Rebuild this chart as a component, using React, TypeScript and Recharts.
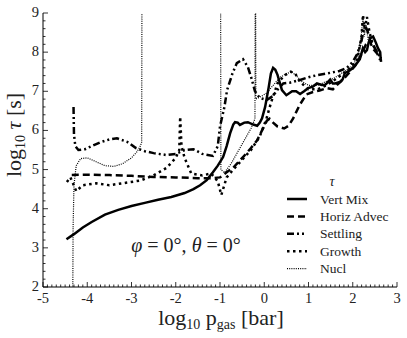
import { LineChart, Line, XAxis, YAxis } from 'recharts';

// timescales vs pressure
const vertMixX = [-4.47, -4.3, -4.1, -3.9, -3.6, -3.3, -3.0, -2.7, -2.4, -2.1, -1.8, -1.6, -1.45, -1.3, -1.16, -1.05, -0.93, -0.85, -0.77, -0.7, -0.66, -0.6, -0.55, -0.45, -0.37, -0.25, -0.16, -0.1, -0.05, 0.02, 0.1, 0.15, 0.2, 0.25, 0.3, 0.4, 0.5, 0.63, 0.72, 0.81, 0.9, 0.99, 1.1, 1.19, 1.3, 1.37, 1.43, 1.49, 1.55, 1.6, 1.71, 1.77, 1.82, 1.94, 2.05, 2.16, 2.23, 2.28, 2.32, 2.36, 2.4, 2.46, 2.52, 2.57, 2.62, 2.63, 2.64];
const vertMixY = [3.22, 3.35, 3.52, 3.66, 3.85, 3.97, 4.07, 4.15, 4.23, 4.3, 4.4, 4.5, 4.6, 4.73, 4.93, 5.1, 5.32, 5.6, 5.93, 6.15, 6.21, 6.2, 6.14, 6.2, 6.21, 6.15, 6.12, 6.2, 6.31, 6.6, 7.1, 7.45, 7.6, 7.55, 7.42, 7.03, 6.9, 7.0, 7.0, 6.93, 7.0, 7.08, 7.12, 7.2, 7.16, 7.16, 7.22, 7.3, 7.2, 7.2, 7.24, 7.3, 7.46, 7.54, 7.65, 7.82, 8.1, 8.0, 8.05, 8.25, 8.36, 8.4, 8.25, 8.1, 8.0, 7.85, 7.75];

const horizX = [-4.35, -4.0, -3.5, -3.0, -2.5, -2.0, -1.5, -1.2, -1.0, -0.85, -0.7, -0.48, -0.3, -0.16, -0.05, 0.06, 0.12, 0.2, 0.3, 0.45, 0.55, 0.65, 0.8, 0.95, 1.1, 1.25, 1.42, 1.55, 1.64, 1.78, 1.9, 2.05, 2.2, 2.3, 2.38, 2.45, 2.55, 2.62];
const horizY = [4.86, 4.87, 4.86, 4.84, 4.81, 4.8, 4.78, 4.78, 4.8, 4.93, 5.05, 5.32, 5.55, 5.75, 6.0, 6.25, 6.3, 6.2, 6.1, 6.05, 6.12, 6.3, 6.65, 6.92, 6.98, 7.02, 7.08, 7.05, 7.16, 7.3, 7.45, 7.65, 7.95, 8.2, 8.3, 8.1, 7.97, 7.8];

const settlingX = [-4.31, -4.3, -4.27, -4.2, -4.05, -3.9, -3.7, -3.5, -3.33, -3.1, -2.9, -2.7, -2.5, -2.2, -2.0, -1.8, -1.6, -1.4, -1.16, -1.05, -1.0, -0.9, -0.84, -0.72, -0.62, -0.48, -0.37, -0.28, -0.21, -0.1, 0.06, 0.2, 0.29, 0.43, 0.58, 0.81, 1.0, 1.19, 1.44, 1.7, 1.87, 2.0, 2.1, 2.2, 2.27, 2.33, 2.4, 2.5, 2.6];
const settlingY = [6.6, 5.9, 5.6, 5.5, 5.52, 5.6, 5.7, 5.77, 5.8, 5.71, 5.55, 5.47, 5.42, 5.37, 5.4, 5.5, 5.52, 5.4, 5.35, 5.6, 6.1, 6.6, 7.03, 7.45, 7.72, 7.82, 7.62, 7.3, 7.0, 6.83, 6.78, 6.88, 7.03, 7.2, 7.22, 7.29, 7.36, 7.41, 7.46, 7.52, 7.6, 7.75, 7.95, 8.3, 8.7, 8.55, 8.3, 8.1, 7.9];

const growthX = [-4.46, -4.38, -4.25, -4.1, -3.8, -3.5, -3.2, -2.8, -2.5, -2.2, -2.0, -1.92, -1.9, -1.87, -1.8, -1.65, -1.4, -1.2, -1.05, -0.97, -0.85, -0.7, -0.5, -0.3, -0.1, 0.05, 0.15, 0.3, 0.45, 0.6, 0.7, 0.8, 1.0, 1.2, 1.4, 1.6, 1.9, 2.1, 2.2, 2.23, 2.27, 2.32, 2.38, 2.45, 2.55];
const growthY = [4.68, 4.8, 4.45, 4.6, 4.65, 4.6, 4.65, 4.72, 4.85, 5.05, 5.3, 5.5, 6.35, 5.6, 5.3, 4.9, 4.85, 4.9, 4.7, 4.35, 4.8, 5.0, 5.25, 5.5, 5.85, 6.3, 6.7, 7.2, 7.4, 7.5, 7.45, 7.25, 7.05, 7.05, 7.15, 7.3, 7.55, 7.8, 8.4, 8.95, 8.6, 8.9, 8.5, 8.2, 8.0];

// values above the frame run off the top (clipped)
const nuclX = [-4.33, -4.32, -4.3, -4.25, -4.15, -4.0, -3.8, -3.6, -3.4, -3.2, -3.0, -2.88, -2.8, -2.77, -2.76, -0.99, -0.98, -0.9, -0.75, -0.6, -0.45, -0.3, -0.21, -0.2, -0.19, -0.1, 0.05, 0.2, 0.35, 0.5, 0.62, 0.72, 0.85, 1.0, 1.2, 1.4, 1.6, 1.8, 2.0, 2.12, 2.2, 2.23, 2.26, 2.3, 2.35];
const nuclY = [1.0, 3.5, 4.6, 5.1, 5.28, 5.3, 5.2, 5.1, 5.08, 5.15, 5.3, 5.45, 5.6, 5.7, 12, 12, 5.0, 4.92, 5.15, 5.45, 5.75, 6.05, 6.3, 12, 6.8, 6.85, 6.95, 7.15, 7.35, 7.45, 7.5, 7.4, 7.25, 7.15, 7.15, 7.25, 7.35, 7.5, 7.65, 7.9, 8.5, 8.9, 8.4, 8.7, 8.3];

const xTickLabels = [-5, -4, -3, -2, -1, 0, 1, 2, 3];
const yTickLabels = [2, 3, 4, 5, 6, 7, 8, 9];

const zip = (xs: number[], ys: number[]) => xs.map((x, i) => ({ x, y: ys[i] }));

const minorTicks = (lo: number, hi: number, step: number) => {
  const out: number[] = [];
  const n = Math.round((hi - lo) / step);
  for (let i = 0; i <= n; i++) out.push(Math.round((lo + i * step) * 1000) / 1000);
  return out;
};
const xTicks = minorTicks(xTickLabels[0], xTickLabels[xTickLabels.length - 1], 0.1);
const yTicks = minorTicks(yTickLabels[0], yTickLabels[yTickLabels.length - 1], 0.2);

const isMajor = (v: number) => Math.abs(v - Math.round(v)) < 1e-6;
const serif = { fontFamily: 'Liberation Serif' };

const series = [
  { name: 'Vert Mix', data: zip(vertMixX, vertMixY), width: 2.5, dash: undefined },
  { name: 'Horiz Advec', data: zip(horizX, horizY), width: 2.5, dash: '7 4' },
  { name: 'Settling', data: zip(settlingX, settlingY), width: 2.5, dash: '7 3 2 3 2 3' },
  { name: 'Growth', data: zip(growthX, growthY), width: 2.5, dash: '2.5 3.5' },
  { name: 'Nucl', data: zip(nuclX, nuclY), width: 1.2, dash: '1 1.2' },
];

const BottomTick = (p: any) => {
  const v = p.payload.value;
  const major = isMajor(v);
  return (
    <g>
      <line x1={p.x} y1={p.y} x2={p.x} y2={p.y - (major ? 5 : 2.5)} stroke="#000" strokeWidth={0.8} />
      {major && (
        <text x={p.x} y={p.y + 16} textAnchor="middle" style={serif} fontSize={14.5} fill="#222">
          {String(Math.round(v))}
        </text>
      )}
    </g>
  );
};

const TopTick = (p: any) => {
  const major = isMajor(p.payload.value);
  return <line x1={p.x} y1={p.y} x2={p.x} y2={p.y + (major ? 5 : 2.5)} stroke="#000" strokeWidth={0.8} />;
};

const LeftTick = (p: any) => {
  const v = p.payload.value;
  const major = isMajor(v);
  return (
    <g>
      <line x1={p.x} y1={p.y} x2={p.x + (major ? 5 : 2.5)} y2={p.y} stroke="#000" strokeWidth={0.8} />
      {major && (
        <text x={p.x - 4} y={p.y + 4} textAnchor="end" style={serif} fontSize={14.5} fill="#222">
          {String(Math.round(v))}
        </text>
      )}
    </g>
  );
};

const RightTick = (p: any) => {
  const major = isMajor(p.payload.value);
  return <line x1={p.x} y1={p.y} x2={p.x - (major ? 5 : 2.5)} y2={p.y} stroke="#000" strokeWidth={0.8} />;
};

export default function App() {
  return (
    <div style={{ position: 'fixed', left: 0, top: 0, width: 407, height: 338, background: '#fff' }}>
      <LineChart width={407} height={338} data={series[0].data} margin={{ top: 13, right: 10, bottom: 0, left: 0 }}>
        <XAxis
          dataKey="x"
          type="number"
          domain={[-5, 3]}
          ticks={xTicks}
          interval={0}
          allowDataOverflow
          height={51}
          tickSize={0}
          tickMargin={0}
          tickLine={false}
          axisLine={{ stroke: '#000', strokeWidth: 1 }}
          tick={(p: any) => <BottomTick {...p} />}
        />
        <XAxis
          xAxisId="top"
          orientation="top"
          dataKey="x"
          type="number"
          domain={[-5, 3]}
          ticks={xTicks}
          interval={0}
          allowDataOverflow
          height={0}
          tickSize={0}
          tickMargin={0}
          tickLine={false}
          axisLine={{ stroke: '#000', strokeWidth: 1 }}
          tick={(p: any) => <TopTick {...p} />}
        />
        <YAxis
          type="number"
          domain={[2, 9]}
          ticks={yTicks}
          interval={0}
          allowDataOverflow
          width={43}
          tickSize={0}
          tickMargin={0}
          tickLine={false}
          axisLine={{ stroke: '#000', strokeWidth: 1 }}
          tick={(p: any) => <LeftTick {...p} />}
        />
        <YAxis
          yAxisId="right"
          orientation="right"
          type="number"
          domain={[2, 9]}
          ticks={yTicks}
          interval={0}
          allowDataOverflow
          width={0}
          tickSize={0}
          tickMargin={0}
          tickLine={false}
          axisLine={{ stroke: '#000', strokeWidth: 1 }}
          tick={(p: any) => <RightTick {...p} />}
        />
        {series.map((s) => (
          <Line
            key={s.name}
            data={s.data}
            dataKey="y"
            type="linear"
            stroke="#000"
            strokeWidth={s.width}
            strokeDasharray={s.dash}
            dot={false}
            isAnimationActive={false}
          />
        ))}
      </LineChart>

      {/* axis titles, annotation and legend */}
      <svg width={407} height={338} style={{ position: 'absolute', left: 0, top: 0, pointerEvents: 'none' }}>
        <text x={221} y={325} textAnchor="middle" style={serif} fontSize={22} fill="#222">
          log<tspan fontSize={14} dy={4}>10</tspan>
          <tspan dy={-4}> p</tspan>
          <tspan fontSize={14} dy={4}>gas</tspan>
          <tspan dy={-4}> [bar]</tspan>
        </text>
        <text x={0} y={0} transform="translate(21,135) rotate(-90)" textAnchor="middle" style={serif} fontSize={22} fill="#222">
          log<tspan fontSize={14} dy={4}>10</tspan>
          <tspan dy={-4} fontStyle="italic"> τ</tspan>
          <tspan> [s]</tspan>
        </text>
        <text x={186} y={252} textAnchor="middle" style={serif} fontSize={20} fill="#222">
          <tspan fontStyle="italic">φ</tspan> = 0°, <tspan fontStyle="italic">θ</tspan> = 0°
        </text>
        <text x={332} y={186} textAnchor="middle" style={serif} fontSize={14} fontStyle="italic" fill="#222">
          τ
        </text>
        {series.map((s, i) => (
          <g key={s.name}>
            <line
              x1={287}
              x2={307}
              y1={199 + i * 17.4}
              y2={199 + i * 17.4}
              stroke="#000"
              strokeWidth={s.width}
              strokeDasharray={s.dash}
            />
            <text x={320} y={203.5 + i * 17.4} style={serif} fontSize={13.5} fill="#222">
              {s.name}
            </text>
          </g>
        ))}
      </svg>
    </div>
  );
}
